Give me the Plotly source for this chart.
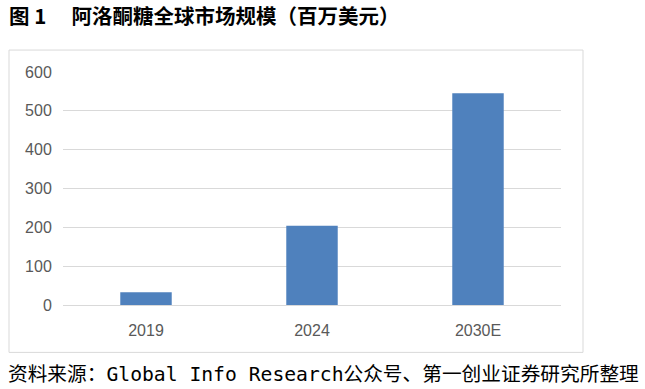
import plotly.graph_objects as go

categories = ["2019", "2024", "2030E"]
values = [33, 204, 545]
y_ticks = [0, 100, 200, 300, 400, 500, 600]

title_text = "图 1　 阿洛酮糖全球市场规模（百万美元）"
source_text = "资料来源：Global Info Research公众号、第一创业证券研究所整理"

W, H = 645, 389
L, R, T, B = 63, 84, 72, 83.5
pw = W - L - R
ph = H - T - B

def px_x(x):
    return (x - L) / pw

def px_y(y):
    return (H - B - y) / ph

fig = go.Figure()
fig.add_trace(go.Bar(
    x=categories, y=values,
    marker=dict(color="#4F81BD", line=dict(width=0)),
    width=0.31,
    hoverinfo="x+y",
))

fig.update_layout(
    width=W, height=H,
    margin=dict(l=L, r=R, t=T, b=B, pad=0),
    paper_bgcolor="white", plot_bgcolor="white",
    showlegend=False,
    font=dict(family="Liberation Sans, Arial, sans-serif", size=16, color="#595959"),
    xaxis=dict(
        type="category", showgrid=False, zeroline=False,
        showline=True, linecolor="#d9d9d9", linewidth=1,
        ticks="outside", ticklen=11, tickcolor="rgba(0,0,0,0)",
        tickfont=dict(size=16, color="#595959"),
    ),
    yaxis=dict(
        range=[0, 600], tickvals=y_ticks, showgrid=True, gridcolor="#d9d9d9", gridwidth=1,
        zeroline=False, showline=False,
        ticks="outside", ticklen=7, tickcolor="rgba(0,0,0,0)",
        tickfont=dict(size=16, color="#595959"),
    ),
    shapes=[dict(
        type="rect", xref="paper", yref="paper",
        x0=px_x(9), x1=px_x(583), y0=px_y(353), y1=px_y(50),
        line=dict(color="#d9d9d9", width=1), fillcolor="rgba(0,0,0,0)", layer="below",
    )],
    annotations=[
        dict(
            text="<b>" + title_text + "</b>", xref="paper", yref="paper",
            x=px_x(7), y=px_y(15), xanchor="left", yanchor="middle", showarrow=False,
            font=dict(family="Noto Sans CJK SC, sans-serif", size=20.5, color="#000000"),
        ),
        dict(
            text=source_text, xref="paper", yref="paper",
            x=px_x(6), y=px_y(375), xanchor="left", yanchor="middle", showarrow=False,
            font=dict(family="DejaVu Sans Mono, Noto Sans CJK SC, monospace", size=19.7, color="#000000"),
        ),
    ],
)

fig.write_html("out.html", config={"displayModeBar": False},
               post_script="document.body.style.margin='0px';")
